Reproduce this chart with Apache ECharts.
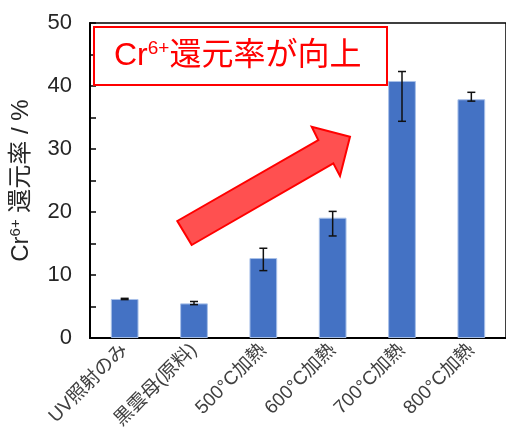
<!DOCTYPE html>
<html><head><meta charset="utf-8">
<script src="https://cdn.jsdelivr.net/npm/echarts@6/dist/echarts.min.js"></script>
<style>html,body{margin:0;padding:0;background:#fff}#c{width:506px;height:432px}</style>
</head><body><div id="c"></div>
<script>
const categories = ['UV照射のみ', '黒雲母(原料)', '500°C加熱', '600°C加熱', '700°C加熱', '800°C加熱'];
const values = [6.2, 5.5, 12.7, 19.1, 40.8, 37.9];
const errLow = [6.1, 5.3, 10.7, 16.2, 34.4, 37.6];
const errHigh = [6.3, 5.8, 14.25, 20.1, 42.3, 39.0];
const yTicks = [0, 10, 20, 30, 40, 50];

const FONT = 'Liberation Sans, Arial, "Noto Sans CJK JP", sans-serif';
const chart = echarts.init(document.getElementById('c'));
chart.setOption({
  animation: false,
  grid: { left: 89, right: 0, top: 23, bottom: 93.5, show: true, borderColor: '#000', borderWidth: 1.5, backgroundColor: 'transparent' },
  xAxis: {
    type: 'category', data: categories,
    axisLine: { lineStyle: { color: '#000', width: 2 } },
    axisTick: { show: false },
    axisLabel: { rotate: 45, margin: 9, fontSize: 19, color: '#404040', fontFamily: FONT, interval: 0 }
  },
  yAxis: {
    type: 'value', min: yTicks[0], max: yTicks[yTicks.length - 1], interval: 10,
    splitLine: { show: false },
    axisLine: { show: true, lineStyle: { color: '#000', width: 2 } },
    axisTick: { show: true, inside: true, length: 6, lineStyle: { color: '#000', width: 1.5 } },
    minorTick: { show: true, splitNumber: 2, length: 6, lineStyle: { color: '#000', width: 1.5 } },
    axisLabel: { fontSize: 22, color: '#262626', margin: 18, fontFamily: FONT },
    name: 'Cr{sup|6+} 還元率 / %',
    nameLocation: 'middle', nameGap: 56, nameRotate: 90,
    nameTextStyle: { fontSize: 24, color: '#262626', fontFamily: FONT,
      rich: { sup: { fontSize: 15, verticalAlign: 'top', color: '#262626', fontFamily: FONT, padding: [0, 0, 11, 0] } } }
  },
  series: [
    {
      type: 'bar', data: values, barWidth: '40%',
      itemStyle: { color: '#4472C4', borderColor: '#A9C1E9', borderWidth: 1 }
    },
    {
      type: 'custom', z: 10,
      data: categories.map((c, i) => [i, errLow[i], errHigh[i]]),
      renderItem: function (params, api) {
        const lo = api.coord([api.value(0), api.value(1)]);
        const hi = api.coord([api.value(0), api.value(2)]);
        const w = 4;
        const st = { stroke: '#111', lineWidth: 1.5 };
        return { type: 'group', children: [
          { type: 'line', shape: { x1: lo[0], y1: lo[1], x2: hi[0], y2: hi[1] }, style: st },
          { type: 'line', shape: { x1: lo[0] - w, y1: lo[1], x2: lo[0] + w, y2: lo[1] }, style: st },
          { type: 'line', shape: { x1: hi[0] - w, y1: hi[1], x2: hi[0] + w, y2: hi[1] }, style: st }
        ] };
      }
    }
  ],
  graphic: [
    { type: 'polygon', z: 20,
      shape: { points: [[191.7, 245], [177.3, 221], [318.3, 140], [311.7, 126.7], [350, 136.7], [340, 176], [333.3, 163.3]] },
      style: { fill: '#FF5050', stroke: '#FF0000', lineWidth: 2 } },
    { type: 'rect', z: 20, shape: { x: 94, y: 27, width: 293, height: 58 },
      style: { fill: '#fff', stroke: '#FF0000', lineWidth: 2 } },
    { type: 'text', z: 21, x: 114, y: 56,
      style: { text: 'Cr{sup|6+}還元率が向上', fill: '#FF0000', fontSize: 32, fontFamily: FONT, verticalAlign: 'middle',
        rich: { sup: { fontSize: 19, fill: '#FF0000', fontFamily: FONT, verticalAlign: 'top', padding: [0, 0, 14, 0] } } } }
  ]
});
</script></body></html>
